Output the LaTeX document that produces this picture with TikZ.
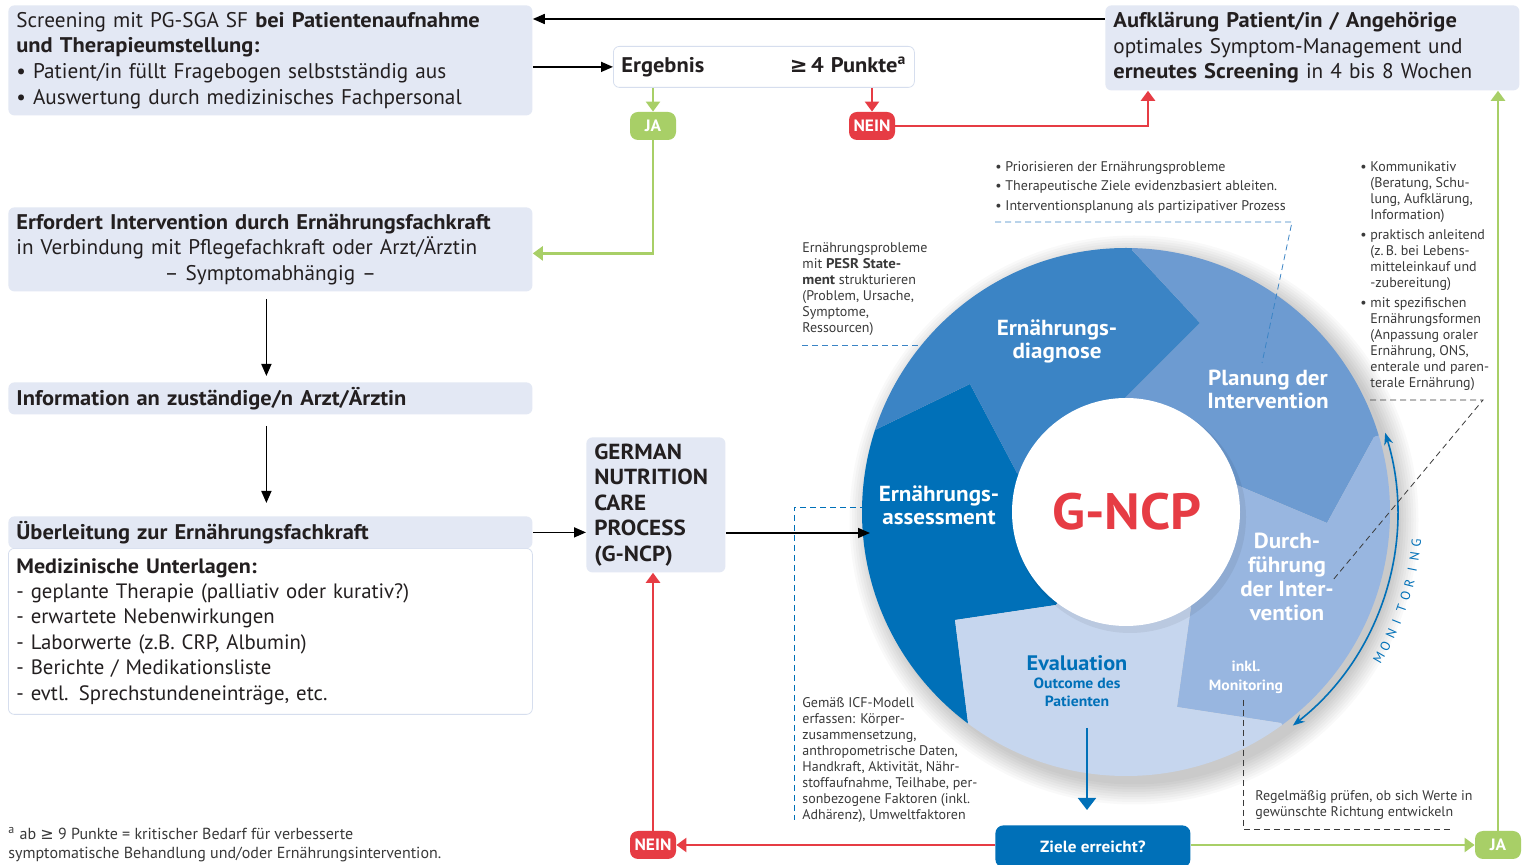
\documentclass[tikz,border=0pt]{standalone}
\usepackage{fontspec}
\setmainfont{PT Sans}[BoldFeatures={FakeStretch=1.06}]
\setsansfont{PT Sans}[BoldFeatures={FakeStretch=1.06}]
\newfontfamily\symfont{DejaVu Sans}
\usetikzlibrary{positioning,arrows.meta,calc}
\definecolor{boxfill}{HTML}{E3E8F4}
\definecolor{boxline}{HTML}{D6DEEE}
\definecolor{jagreen}{HTML}{A8CF67}
\definecolor{neinred}{HTML}{E63C44}
\definecolor{ncpA}{HTML}{0070B8}
\definecolor{ncpB}{HTML}{3B84C5}
\definecolor{ncpC}{HTML}{6D9BD1}
\definecolor{ncpD}{HTML}{98B6E0}
\definecolor{ncpE}{HTML}{C6D6EE}
\definecolor{textdark}{HTML}{231F20}
\definecolor{notegray}{HTML}{3A3A3A}
\newcommand\boxfont{\fontsize{10.6}{12.85}\selectfont}
\newcommand\notefont{\fontsize{7}{8}\selectfont}
\tikzset{
  font=\sffamily, text=textdark
}

\begin{document}
\begin{tikzpicture}[x=0.5pt,y=0.5pt,
  >={Triangle[length=6pt,width=5pt]},
  item/.style={rectangle,fill=boxfill,rounded corners=3pt,anchor=north west,
    text width=254pt,inner xsep=4pt,inner ysep=2pt,align=left,font=\boxfont},
  badge/.style={rectangle,rounded corners=4pt,minimum width=23pt,minimum height=14pt,
    inner sep=0pt,text=white,font=\fontsize{8.2}{9}\selectfont\bfseries},
  yes/.style={badge,fill=jagreen},
  no/.style={badge,fill=neinred},
  seg/.style={text=white,align=center,font=\fontsize{10.9}{11.5}\selectfont\bfseries},
  note/.style={anchor=north west,align=left,inner sep=0pt,text=notegray,font=\notefont},
  hint/.style={densely dashed,line width=0.4pt,notegray},
  link/.style={->,line width=0.8pt},
  yesline/.style={-{Triangle[length=5pt,width=7pt]},jagreen,line width=1.2pt},
  noline/.style={-{Triangle[length=5pt,width=7pt]},neinred,line width=1.2pt}]
\path[use as bounding box,fill=white] (0,0) rectangle (1522,-865);

% left column
\node[item,minimum height=55pt] (screening) at (8,-5)
  {Screening mit PG-SGA SF \textbf{bei Patientenaufnahme}\\
   \textbf{und Therapieumstellung:}\\
   \textbullet\ Patient/in füllt Fragebogen selbstständig aus\\
   \textbullet\ Auswertung durch medizinisches Fachpersonal};
\node[item,fill=white,draw=boxline,text width=142.5pt,minimum height=20.5pt] (ergebnis) at (613,-46)
  {\textbf{Ergebnis}\hspace*{\fill}\textbf{{\symfont ≥}\,4 Punkte\textsuperscript{a}}};
\node[yes] (jaTop) at (653,-126) {JA};
\node[no] (neinTop) at (872,-126) {NEIN};
\node[item,text width=199pt,minimum height=42.5pt] (aufkl) at (1105,-5)
  {\textbf{Aufklärung Patient/in / Angehörige}\\
   optimales Symptom-Management und\\
   \textbf{erneutes Screening} in 4 bis 8 Wochen};
\node[item,minimum height=42pt] (erfordert) at (8,-207)
  {\textbf{Erfordert Intervention durch Ernährungsfachkraft}\\
   in Verbindung mit Pflegefachkraft oder Arzt/Ärztin\\
   \hspace*{\fill}– Symptomabhängig –\hspace*{\fill}};
\node[item,minimum height=16pt] (information) at (8,-382)
  {\textbf{Information an zuständige/n Arzt/Ärztin}};
\node[item,fill=white,draw=boxline,minimum height=83pt,font=\fontsize{10.4}{12.7}\selectfont] (uebBody) at (8,-548)
  {\textbf{Medizinische Unterlagen:}\\
   - geplante Therapie (palliativ oder kurativ?)\\
   - erwartete Nebenwirkungen\\
   - Laborwerte (z.B. CRP, Albumin)\\
   - Berichte / Medikationsliste\\
   - evtl. Sprechstundeneinträge, etc.};
\node[item,minimum height=16pt] (uebHead) at (8,-516)
  {\textbf{Überleitung zur Ernährungsfachkraft}};
\node[item,text width=61.5pt,minimum height=67.5pt,font=\fontsize{10.9}{12.75}\selectfont\bfseries] (gncp) at (586,-437)
  {GERMAN\\NUTRITION\\CARE\\PROCESS\\(G-NCP)};
\node[no] (neinBot) at (653,-845) {NEIN};
\node[yes] (jaBot) at (1498,-845) {JA};
\node[rectangle,fill=ncpA,rounded corners=4pt,anchor=north west,minimum width=97.5pt,minimum height=21pt,
  text=white,font=\fontsize{8.1}{9}\selectfont\bfseries] (ziele) at (995,-825) {Ziele erreicht?};

% G-NCP wheel
\coordinate (C) at (1126,-512);
\coordinate (EAin) at (1056,-605); \coordinate (EAtip) at (955,-620);
\coordinate (EAout) at (968,-723); \coordinate (EAfar) at (810,-934);
\coordinate (ADout) at (875,-430); \coordinate (ADtip) at (970,-384);
\coordinate (ADin) at (1017,-473); \coordinate (ADfar) at (624,-348);
\coordinate (DPout) at (1132,-250); \coordinate (DPtip) at (1200,-323);
\coordinate (DPin) at (1125,-398); \coordinate (DPfar) at (1138,-12);
\coordinate (PDout) at (1374,-437); \coordinate (PDtip) at (1327,-523);
\coordinate (PDin) at (1232,-483); \coordinate (PDfar) at (1622,-362);
\coordinate (DEout) at (1281,-723); \coordinate (DEtip) at (1177,-707);
\coordinate (DEin) at (1191,-607); \coordinate (DEfar) at (1436,-934);
\foreach \k in {1,...,9}
  \fill[black,opacity=0.025] (1134,-520) circle[radius=262+\k*2.5];
\begin{scope}
  \clip (C) circle[radius=264];
  \fill[ncpA] (C) -- (EAin) -- (EAtip) -- (EAout) -- (EAfar) -- (600,-520) -- (ADfar) -- (ADout) -- (ADtip) -- (ADin) -- cycle;
  \fill[ncpB] (C) -- (ADin) -- (ADtip) -- (ADout) -- (ADfar) -- (800,-150) -- (DPfar) -- (DPout) -- (DPtip) -- (DPin) -- cycle;
  \fill[ncpC] (C) -- (DPin) -- (DPtip) -- (DPout) -- (DPfar) -- (1500,-100) -- (PDfar) -- (PDout) -- (PDtip) -- (PDin) -- cycle;
  \fill[ncpD] (C) -- (PDin) -- (PDtip) -- (PDout) -- (PDfar) -- (1700,-700) -- (DEfar) -- (DEout) -- (DEtip) -- (DEin) -- cycle;
  \fill[ncpE] (C) -- (DEin) -- (DEtip) -- (DEout) -- (DEfar) -- (1126,-1100) -- (EAfar) -- (EAout) -- (EAtip) -- (EAin) -- cycle;
\end{scope}
\fill[black,opacity=0.06] (1130,-517) circle[radius=116];
\fill[white] (C) circle[radius=114];
\node[text=neinred,font=\fontsize{25.5}{26}\selectfont\bfseries] (gncpTxt) at (1127,-512) {G-NCP};
\node[seg] (diagTxt) at (1057,-341) {Ernährungs-\\diagnose};
\node[seg] (planTxt) at (1268,-389) {Planung der\\Intervention};
\node[seg] (assessTxt) at (939,-505) {Ernährungs-\\assessment};
\node[seg,font=\fontsize{10.9}{12}\selectfont\bfseries] (durchTxt) at (1287,-577) {Durch-\\führung\\der Inter-\\vention};
\node[text=ncpA,font=\fontsize{10.5}{11}\selectfont\bfseries] (evalTxt) at (1077,-663) {Evaluation};
\node[text=ncpA,align=center,font=\fontsize{7.4}{9}\selectfont\bfseries] (outcome) at (1077,-692) {Outcome des\\Patienten};
\node[text=white,align=center,font=\fontsize{7.4}{9.5}\selectfont\bfseries] (inkl) at (1246,-677) {inkl.\\Monitoring};

% monitoring
\draw[ncpA,line width=0.8pt,{Stealth[length=6pt,width=4.5pt]}-{Stealth[length=6pt,width=4.5pt]}]
  (C) ++(-52:271) arc[start angle=-52,end angle=17,radius=271];
\foreach \ch [count=\i] in {M,O,N,I,T,O,R,I,N,G}
  \path (C) ++({-30+(\i-1)*2.65}:292)
    node[rotate={60+(\i-1)*2.65},text=ncpA,font=\fontsize{6.6}{6.6}\selectfont,inner sep=0pt] (mon\i) {\ch};

% notes
\node[note,font=\fontsize{7}{9.75}\selectfont] (noteplan) at (995,-161)
  {\textbullet\ Priorisieren der Ernährungsprobleme\\
   \textbullet\ Therapeutische Ziele evidenzbasiert ableiten.\\
   \textbullet\ Interventionsplanung als partizipativer Prozess};
\node[note] (notediag) at (802,-242)
  {Ernährungsprobleme\\mit \textbf{PESR State-}\\\textbf{ment} strukturieren\\
   (Problem, Ursache,\\Symptome,\\Ressourcen)};
\node[note] (notedurch) at (1370,-161)
  {\llap{\textbullet\ }Kommunikativ\\(Beratung, Schu-\\lung, Aufklärung,\\Information)\\[2pt]
   \llap{\textbullet\ }praktisch anleitend\\(z.\,B. bei Lebens-\\mitteleinkauf und\\-zubereitung)\\[2pt]
   \llap{\textbullet\ }mit spezifischen\\Ernährungsformen\\(Anpassung oraler\\Ernährung, ONS,\\
   enterale und paren-\\terale Ernährung)};
\node[note] (noteassess) at (802,-697)
  {Gemäß ICF-Modell\\erfassen: Körper-\\zusammensetzung,\\anthropometrische Daten,\\
   Handkraft, Aktivität, Nähr-\\stoffaufnahme, Teilhabe, per-\\sonbezogene Faktoren (inkl.\\
   Adhärenz), Umweltfaktoren};
\node[note] (noteeval) at (1255,-790)
  {Regelmäßig prüfen, ob sich Werte in\\gewünschte Richtung entwickeln};
\node[note,font=\fontsize{8}{9.5}\selectfont] (footnote) at (8,-827)
  {\textsuperscript{a} ab {\symfont ≥} 9 Punkte = kritischer Bedarf für verbesserte\\
   symptomatische Behandlung und/oder Ernährungsintervention.};

\coordinate (planPin) at (1262,-363);
\coordinate (planBend) at (1292,-222);
\coordinate (diagPin) at (1000,-345);
\coordinate (durchBend) at (1483,-400);
\coordinate (durchPin) at (1333,-580);
\coordinate (assessPin) at (876,-507);
\coordinate (assessFoot) at (794,-820);
\coordinate (monPin) at (1243,-700);
\coordinate (monFoot) at (1450,-829);
\draw[hint,ncpB] (planBend -| noteplan.west) -- (planBend) -- (planPin);
\draw[hint,ncpB] (diagPin -| notediag.west) -- (diagPin);
\draw[hint] (durchBend -| notedurch.west) -- (durchBend) -- (durchPin);
\draw[hint,ncpA] (assessPin) -- (assessPin -| assessFoot) -- (assessFoot);
\draw[hint] (monPin) -- (monPin |- monFoot) -- (monFoot);

% connectors
\draw[link] ([yshift=-7pt]aufkl.north west) -- ([yshift=-7pt]screening.north east);
\draw[link] (screening.east |- ergebnis.west) -- (ergebnis.west);
\draw[yesline] (ergebnis.south -| jaTop) -- (jaTop.north);
\draw[noline] (ergebnis.south -| neinTop) -- (neinTop.north);
\draw[noline] (neinTop.east) -| ([xshift=21.5pt]aufkl.south west);
\draw[yesline] (jaTop.south) |- ([yshift=-2pt]erfordert.east);
\draw[link,shorten <=3.5pt,shorten >=3pt] ([xshift=-2pt]erfordert.south) -- ([xshift=-2pt]information.north);
\draw[link,shorten <=5.5pt,shorten >=6.5pt] ([xshift=-2pt]information.south) -- ([xshift=-2pt]uebHead.north);
\draw[link] (uebHead.east) -- (gncp.west |- uebHead.east);
\coordinate (assessIn) at (870,-533);
\draw[link] (gncp.east |- assessIn) -- (assessIn);
\draw[noline] (ziele.west |- neinBot.east) -- (neinBot.east);
\draw[noline] (neinBot.north) -- (gncp.south -| neinBot.north);
\draw[yesline] (ziele.east |- jaBot.west) -- (jaBot.west);
\draw[yesline] (jaBot.north) -- (aufkl.south -| jaBot.north);
\coordinate (evalPin) at (1087,-728);
\draw[ncpA,line width=0.9pt,-{Triangle[length=6pt,width=9pt]},shorten >=7.5pt] (evalPin) -- (evalPin |- ziele.north);
\end{tikzpicture}
\end{document}
